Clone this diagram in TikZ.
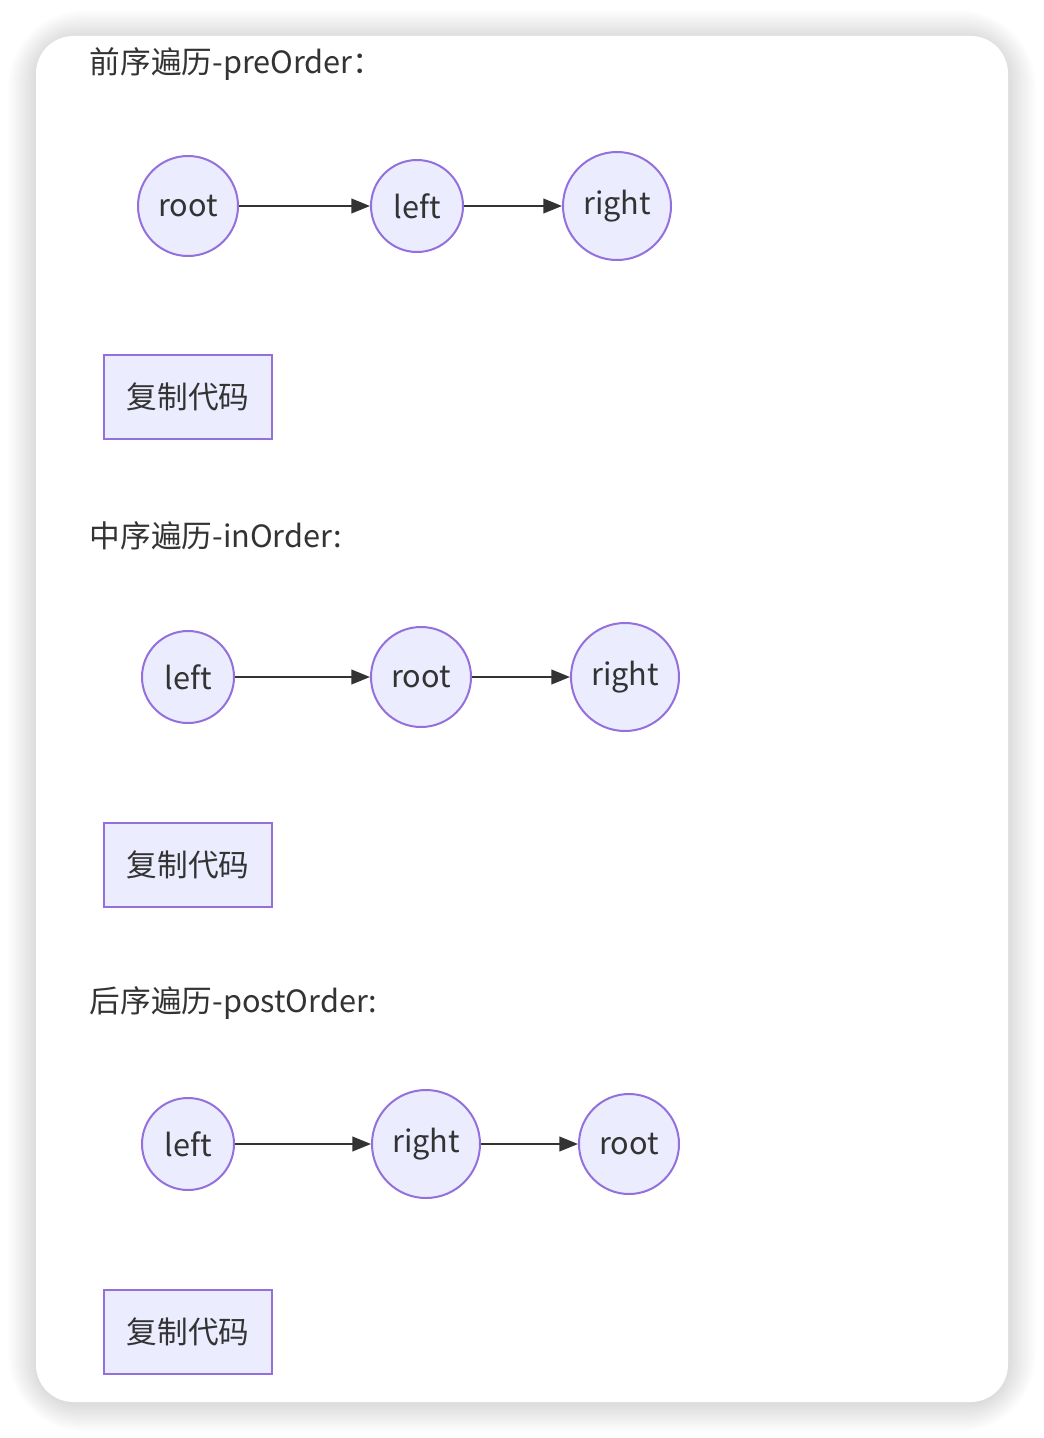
\documentclass[tikz,border=0pt]{standalone}
\usepackage{fontspec}
\setmainfont{Noto Sans CJK SC}
\usetikzlibrary{arrows.meta}
\definecolor{mmdFill}{HTML}{ECECFF}
\definecolor{mmdLine}{HTML}{9370DB}
\definecolor{mmdText}{HTML}{333333}

\begin{document}
\begin{tikzpicture}[x=0.75pt, y=-0.75pt,
    every node/.style={text=mmdText, font=\fontsize{23}{27}\selectfont},
    item/.style={circle, draw=mmdLine, fill=mmdFill, line width=1.5pt, inner sep=0pt},
    copybtn/.style={draw=mmdLine, fill=mmdFill, line width=1.5pt, minimum width=126pt, minimum height=63pt},
    heading/.style={anchor=west},
    link/.style={-{Triangle[length=14pt,width=11pt]}, line width=1.5pt, draw=mmdText}]
  \useasboundingbox (0,0) rectangle (1044,1438);
  % card shadow
  \foreach \i in {0,...,11}
    \fill[black, opacity=0.012, rounded corners=30+2.5*\i] (36-2.5*\i,38-2.5*\i) rectangle (1008+2.5*\i,1404+2.5*\i);
  \fill[white, rounded corners=28] (36,36) rectangle (1008,1402);

  % preOrder
  \node[heading] (t1) at (85,64) {前序遍历-preOrder：};
  \node[item, minimum size=75pt] (a1) at (188,206) {root};
  \node[item, minimum size=69pt] (a2) at (417,206) {left};
  \node[item, minimum size=81pt] (a3) at (617,206) {right};
  \draw[link] (a1) -- (a2);
  \draw[link] (a2) -- (a3);
  \node[copybtn] (c1) at (188,397) {复制代码};

  % inOrder
  \node[heading] (t2) at (85,536) {中序遍历-inOrder:};
  \node[item, minimum size=69pt] (b1) at (188,677) {left};
  \node[item, minimum size=75pt] (b2) at (421,677) {root};
  \node[item, minimum size=81pt] (b3) at (625,677) {right};
  \draw[link] (b1) -- (b2);
  \draw[link] (b2) -- (b3);
  \node[copybtn] (c2) at (188,865) {复制代码};

  % postOrder
  \node[heading] (t3) at (85,1003) {后序遍历-postOrder:};
  \node[item, minimum size=69pt] (d1) at (188,1144) {left};
  \node[item, minimum size=81pt] (d2) at (426,1144) {right};
  \node[item, minimum size=75pt] (d3) at (629,1144) {root};
  \draw[link] (d1) -- (d2);
  \draw[link] (d2) -- (d3);
  \node[copybtn] (c3) at (188,1332) {复制代码};
\end{tikzpicture}
\end{document}
